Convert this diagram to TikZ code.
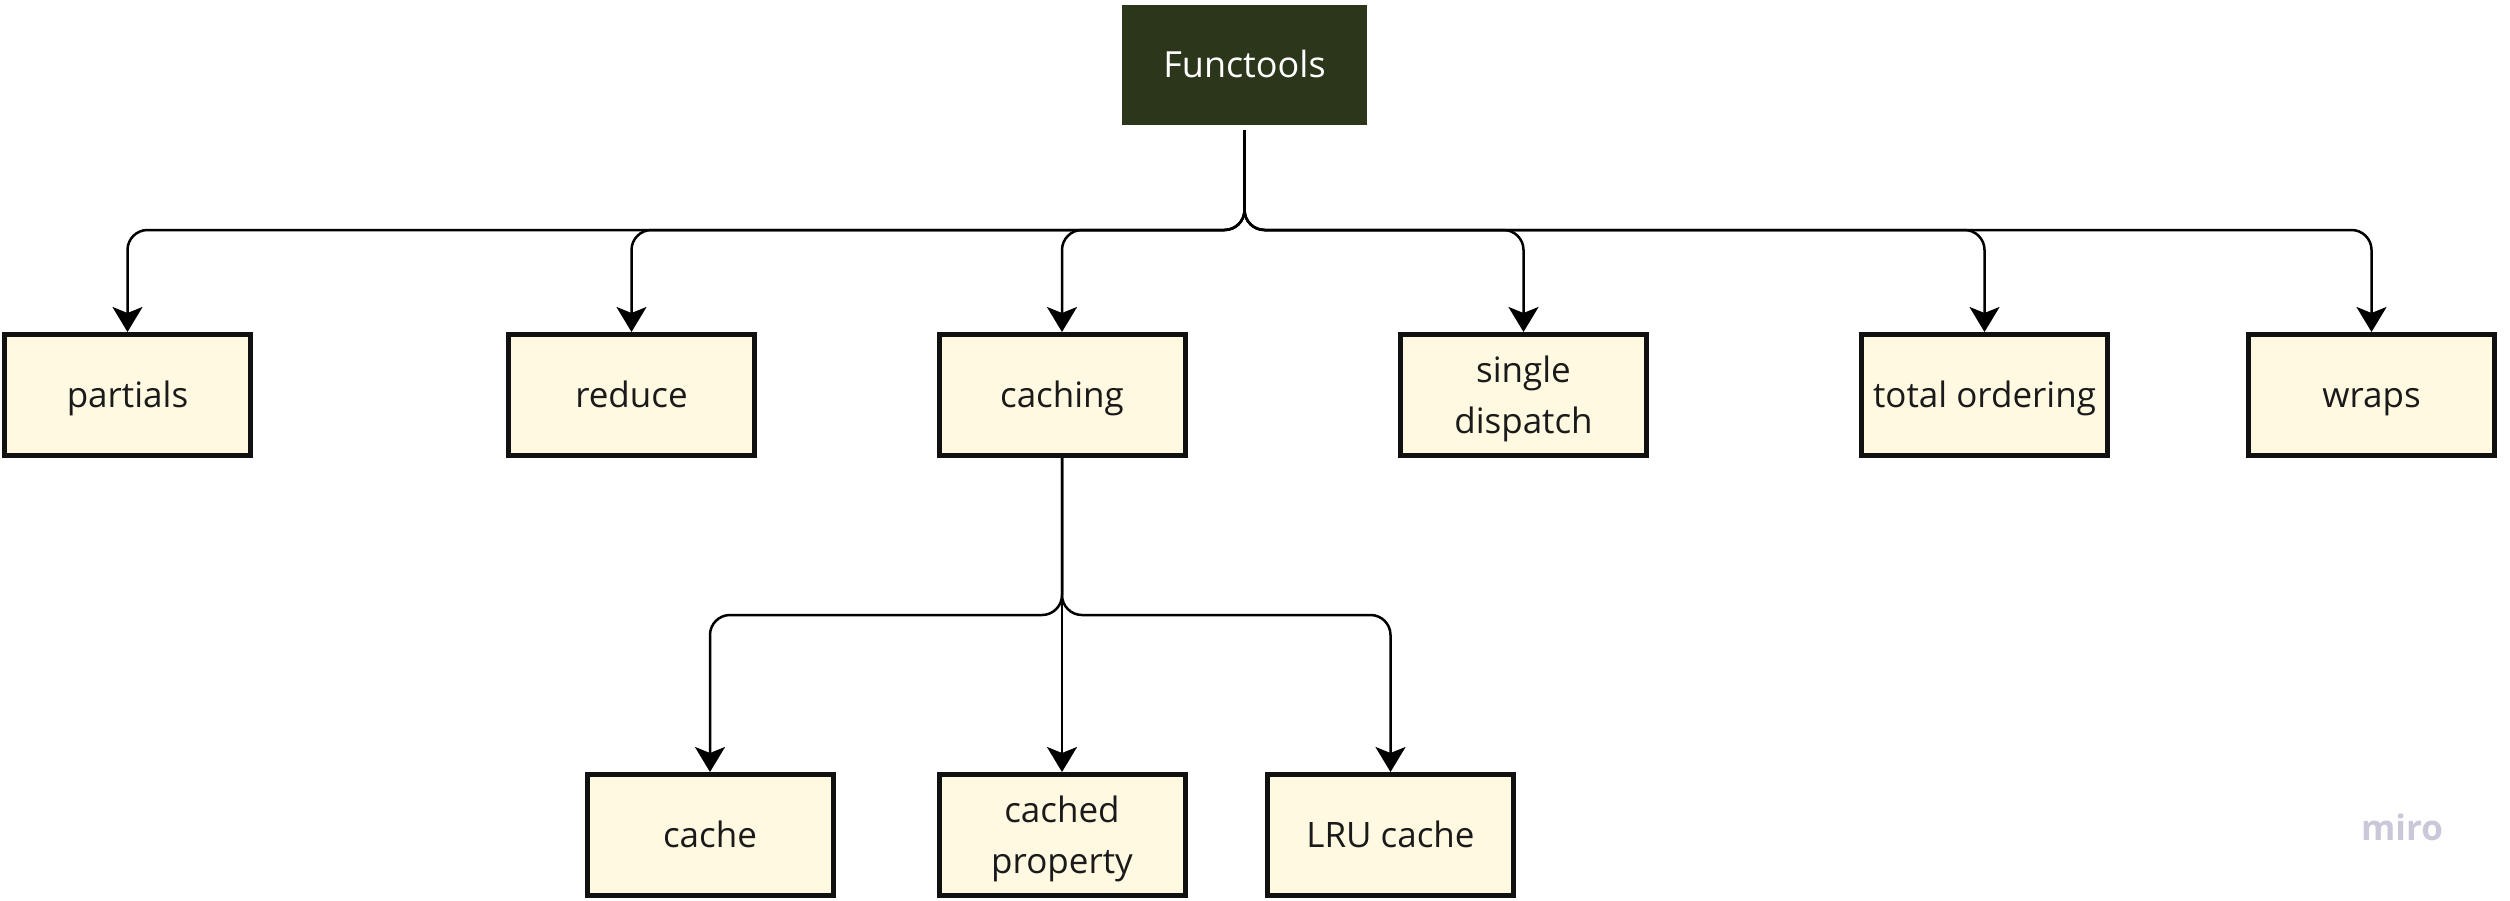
\documentclass[tikz,border=0pt]{standalone}
\usepackage{fontspec}
\setmainfont{Open Sans}
\usetikzlibrary{arrows.meta}
\definecolor{darkgreen}{HTML}{2B361A}
\definecolor{cream}{HTML}{FEF9E0}
\definecolor{boxline}{HTML}{111111}
\definecolor{txt}{HTML}{1A1A1A}
\definecolor{mirogray}{HTML}{C8C8D8}
\begin{document}
\begin{tikzpicture}[x=1pt,y=-1pt,
 leaf/.style={draw=boxline, line width=5pt, fill=cream, minimum width=246pt, minimum height=121pt, inner sep=0pt, align=center, text=txt, font=\fontsize{35}{51}\selectfont},
 oneline/.style={text height=30pt, text depth=6pt},
 twoline/.style={yshift=0pt, text depth=1pt},
 root/.style={fill=darkgreen, minimum width=245pt, minimum height=120pt, inner sep=0pt, text=white, font=\fontsize{36}{51}\selectfont, text height=30pt, text depth=6pt},
 conn/.style={draw=black, line width=2.5pt, rounded corners=20pt, -{Stealth[length=25pt,width=30pt,inset=6pt]}},
]
\useasboundingbox (0,0) rectangle (2510,900);
\node[root] (F) at (1244.5,65) {Functools};
\node[leaf,oneline] (partials) at (127.5,395) {partials};
\node[leaf,oneline] (reduce) at (631.5,395) {reduce};
\node[leaf,oneline] (caching) at (1062,395) {caching};
\node[leaf,twoline] (single) at (1523.5,395) {single\\dispatch};
\node[leaf,oneline] (total) at (1984.5,395) {total ordering};
\node[leaf,oneline] (wraps) at (2371.5,395) {wraps};
\node[leaf,oneline] (cache) at (710,835) {cache};
\node[leaf,twoline] (cprop) at (1062,835) {cached\\property};
\node[leaf,oneline] (lru) at (1390.5,835) {LRU cache};
\node[text=mirogray, font=\fontsize{35}{40}\selectfont\bfseries, anchor=base] (wm) at (2402,840) {miro};
\coordinate (bus1) at (0,230);
\coordinate (bus2) at (0,615);
\foreach \c in {partials,reduce,caching,single,total,wraps}{
  \draw[conn, shorten <=5pt] (F.south) -- (F.south |- bus1) -- (\c.north |- bus1) -- (\c.north);
}
\foreach \c in {cache,lru}{
  \draw[conn] (caching.south) -- (caching.south |- bus2) -- (\c.north |- bus2) -- (\c.north);
}
\draw[conn] (caching.south) -- (cprop.north);
\end{tikzpicture}
\end{document}
